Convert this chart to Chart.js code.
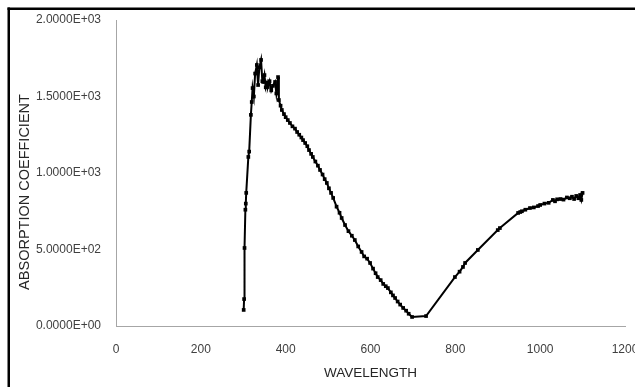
<!DOCTYPE html>
<html>
<head>
<meta charset="utf-8">
<script src="https://cdn.jsdelivr.net/npm/chart.js@4.4.1/dist/chart.umd.min.js"></script>
<style>
  html, body { margin: 0; padding: 0; background: #fff; }
  #chart { display: block; }
</style>
</head>
<body>
<canvas id="chart" width="635" height="387"></canvas>
<script>
// measured spectrum: wavelength (nm) and absorption coefficient
const wavelength = [
  301, 302, 303, 305, 306, 307, 312, 314, 318, 320,
  322, 325, 328, 332, 335, 338, 342, 345, 347, 350,
  353, 356, 358, 362, 366, 370, 375, 378, 382, 384,
  388, 391, 396, 400, 405, 410, 416, 422, 427, 432,
  437, 441, 446, 451, 455, 460, 464, 470, 476, 481,
  487, 492, 497, 502, 507, 512, 520, 527, 532, 540,
  548, 556, 563, 571, 579, 585, 592, 599, 606, 612,
  617, 624, 630, 636, 641, 648, 653, 658, 664, 670,
  677, 684, 690, 698, 731, 799, 810, 818, 823, 853,
  900, 905, 948, 953, 957, 965, 976, 985, 995, 1000,
  1010, 1020, 1030, 1035, 1040, 1048, 1055, 1063, 1070, 1075,
  1080, 1085, 1090, 1094, 1097, 1100
];
const absorption = [
  105, 176, 510, 760, 800, 870, 1105, 1140, 1380, 1464,
  1555, 1500, 1650, 1706, 1575, 1690, 1739, 1600, 1595, 1640,
  1560, 1590, 1562, 1600, 1540, 1570, 1595, 1520, 1627, 1477,
  1440, 1412, 1385, 1365, 1346, 1327, 1305, 1290, 1268, 1250,
  1232, 1215, 1196, 1175, 1150, 1125, 1105, 1075, 1048, 1020,
  990, 960, 935, 900, 870, 837, 780, 740, 706, 660,
  620, 590, 562, 520, 484, 455, 440, 412, 375, 345,
  320, 300, 275, 260, 248, 220, 200, 183, 160, 140,
  118, 100, 80, 59, 65, 320, 355, 386, 412, 497,
  627, 640, 739, 745, 750, 760, 771, 775, 784, 791,
  800, 805, 824, 815, 828, 830, 826, 840, 835, 845,
  830, 850, 835, 856, 824, 870
];
const xTicks = [0, 200, 400, 600, 800, 1000, 1200];
const yTicks = [0, 500, 1000, 1500, 2000];

const FONT = "'Liberation Sans', Arial, sans-serif";

// 2.0000E+03 style labels
function sci(v) {
  if (v === 0) return '0.0000E+00';
  const e = Math.floor(Math.log10(Math.abs(v)));
  const m = v / Math.pow(10, e);
  const sign = e < 0 ? '-' : '+';
  return m.toFixed(4) + 'E' + sign + String(Math.abs(e)).padStart(2, '0');
}

const points = wavelength.map((w, i) => ({ x: w, y: absorption[i] }));

// black frame on top and left edge
const framePlugin = {
  id: 'frame',
  beforeDraw(chart) {
    const ctx = chart.ctx;
    ctx.save();
    ctx.fillStyle = '#000';
    ctx.fillRect(7.5, 7.5, 628, 2.5);
    ctx.fillRect(7.5, 7.5, 2.5, 380);
    ctx.restore();
  }
};

// vertical y-axis title
const yTitlePlugin = {
  id: 'yTitle',
  afterDraw(chart) {
    const ctx = chart.ctx;
    ctx.save();
    ctx.translate(25, 192);
    ctx.rotate(-Math.PI / 2);
    ctx.font = '14.5px ' + FONT;
    ctx.fillStyle = '#262626';
    ctx.textAlign = 'center';
    ctx.textBaseline = 'middle';
    ctx.fillText('ABSORPTION COEFFICIENT', 0, 0);
    ctx.restore();
  }
};

new Chart(document.getElementById('chart').getContext('2d'), {
  type: 'line',
  data: {
    datasets: [{
      data: points,
      borderColor: '#000',
      borderWidth: 2,
      pointStyle: 'rect',
      pointRadius: 2.6,
      pointBackgroundColor: '#000',
      pointBorderColor: '#000',
      pointBorderWidth: 0,
      tension: 0
    }]
  },
  options: {
    responsive: false,
    animation: false,
    layout: { padding: { left: 0, top: 20, right: 10, bottom: 0 } },
    plugins: {
      legend: { display: false },
      tooltip: { enabled: false }
    },
    scales: {
      x: {
        type: 'linear',
        min: 0,
        max: 1200,
        afterBuildTicks: (s) => { s.ticks = xTicks.map(v => ({ value: v })); },
        afterFit: (s) => { s.height = 61; s.paddingLeft = 0; s.paddingRight = 0; },
        grid: { display: false },
        border: { color: '#a6a6a6', width: 1 },
        ticks: {
          padding: 8,
          maxRotation: 0,
          color: '#404040',
          font: { family: FONT, size: 12 },
          callback: (v) => String(v)
        },
        title: {
          display: true,
          text: 'WAVELENGTH',
          color: '#262626',
          font: { family: FONT, size: 13.5 },
          padding: { top: 0, bottom: 6 }
        }
      },
      y: {
        min: 0,
        max: 2000,
        afterBuildTicks: (s) => { s.ticks = yTicks.map(v => ({ value: v })); },
        afterFit: (s) => { s.width = 116; },
        grid: { display: false },
        border: { color: '#a6a6a6', width: 1 },
        ticks: {
          padding: 7,
          color: '#404040',
          font: { family: FONT, size: 12 },
          callback: (v) => sci(v)
        }
      }
    }
  },
  plugins: [framePlugin, yTitlePlugin]
});
</script>
</body>
</html>
